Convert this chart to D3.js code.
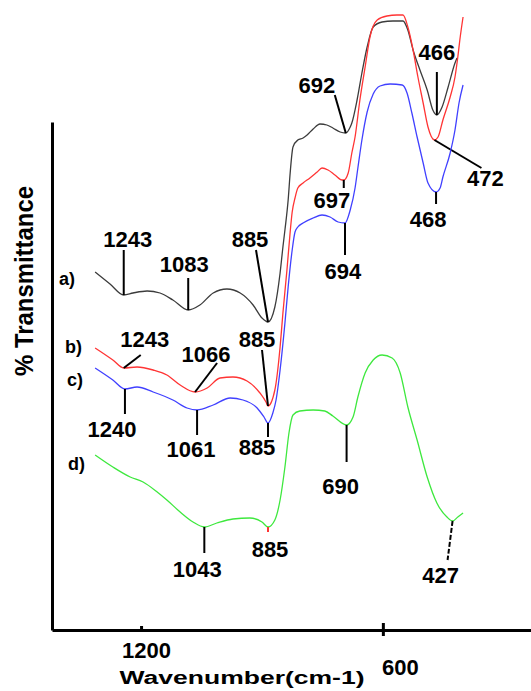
<!DOCTYPE html>
<html>
<head>
<meta charset="utf-8">
<script src="https://cdn.jsdelivr.net/npm/d3@7"></script>
<style>
  html, body { margin: 0; padding: 0; background: #fff; }
  svg { display: block; font-family: "Liberation Sans", Arial, sans-serif; font-weight: bold; }
</style>
</head>
<body>
<svg id="chart" width="531" height="691"></svg>
<script>
// ---- Spectra: wavenumber (cm-1) and offset % transmittance ----
const wnA = [1314,1277,1243,1220,1185,1153,1121,1083,1054,1021,987,954,922,900,885,868,855,848,843,835,830,823,811,798,788,773,756,739,724,706,692,681,677,664,652,639,624,602,575,550,538,525,508,490,476,466,453,438,421,416];
const tA  = [71.6,69.2,67,67.4,67.8,67.4,66,64,65,67.4,68.2,67.4,65,62.4,61.6,64.6,71.4,76.6,80,86,91.4,96.6,98,98.4,99,100.2,101.2,101,100.4,99.6,99.4,100.6,101.4,106,111.4,116.6,120.6,121.6,121.8,121.8,120,116,112,108,104,103,104.6,108.6,113.4,114.4];

const wnB = [1314,1270,1243,1210,1170,1136,1103,1066,1036,1004,972,937,905,890,885,868,855,848,838,830,825,818,811,798,781,763,751,736,719,701,697,686,677,669,657,644,632,614,590,565,550,538,525,513,500,488,472,463,451,433,421,414,409,401];
const tB  = [56.4,54,52.4,52.6,52,51,49,47.6,48.4,50.4,50.6,49.8,47.4,45.6,44.8,48,56.6,63.4,72,79.6,83.6,86.4,88.4,89.4,90.4,91.6,92.4,92,91,90,90,91.4,95.4,98.6,106,112.6,118.6,122,122.8,123,123,120.6,116,110.6,105.4,100.6,98,98.6,102,106.6,110.6,114.6,118,122.6];

const wnC = [1314,1270,1240,1210,1170,1121,1086,1061,1021,979,947,912,895,885,873,865,855,843,835,825,818,811,798,773,751,731,711,694,681,669,662,652,639,624,607,582,552,540,528,515,500,488,468,458,451,433,421,411,401];
const tC  = [52.4,50,48.2,48.6,47.6,46,44.4,44,45,46.4,46,44.4,42.6,41.4,43.4,46,52,61.4,68.6,76,79.6,80.6,81.4,82.4,83,82.6,81.6,81.4,84,88.4,92.4,98,103.6,107.2,108.8,109.2,109,107.4,103.4,98.6,93.4,89.4,87.6,88.4,90.6,95.4,100,105.4,109];

const wnD = [1314,1270,1227,1195,1160,1136,1103,1071,1043,1012,972,930,900,885,868,855,843,833,823,806,773,744,724,690,674,662,644,624,602,577,557,538,515,490,466,441,427,414,401];
const tD  = [35,32.6,30.6,29.6,27.6,26,23.6,21.6,20.6,21.4,22.2,22.4,21.6,20.6,22,26,32.6,39.4,43,43.8,44,43.8,42.8,41,42.6,46.6,51.4,54,55,54.4,51.4,44.6,38,30.6,25.4,22.6,21.8,22.6,23.4];

// Labelled band positions (cm-1) for each spectrum
const peaksA = [1243, 1083, 885, 692, 466];
const peaksB = [1243, 1066, 885, 697, 472];
const peaksC = [1240, 1061, 885, 694, 468];
const peaksD = [1043, 885, 690, 427];

const seriesNames = ["a)", "b)", "c)", "d)"];
const xTicks = [1200, 600];
const xTitle = "Wavenumber(cm-1)";
const yTitle = "% Transmittance";

// ---- Styling and label placement ----
const colors = ["#3c3c3c", "#ff3434", "#4040ff", "#3ee83e"];
// offsets (px) from the band minimum: leader end (lx, ly) and text anchor (tx, ty)
const peakLayout = [
  { 1243:{lx:0,ly:-45,tx:4,ty:-48}, 1083:{lx:0,ly:-32,tx:-4,ty:-38}, 885:{lx:-12,ly:-72,tx:-18,ty:-75},
    692:{lx:-11,ly:-38,tx:-29,ty:-40}, 466:{lx:0,ly:-43,tx:0,ty:-55} },
  { 1243:{lx:17,ly:-13,tx:21,ty:-21}, 1066:{lx:22,ly:-29,tx:11,ty:-30}, 885:{lx:-6,ly:-56,tx:-11,ty:-59},
    697:{lx:0,ly:8,tx:-12,ty:28}, 472:{lx:47,ly:28,tx:51,ty:46} },
  { 1240:{lx:0,ly:25,tx:-13,ty:48}, 1061:{lx:0,ly:25,tx:-6,ty:47}, 885:{lx:0,ly:14,tx:-11,ty:32},
    694:{lx:0,ly:32,tx:-2,ty:56}, 468:{lx:0,ly:12,tx:-8,ty:35} },
  { 1043:{lx:0,ly:26,tx:-7,ty:50}, 885:{lx:0,ly:5,tx:2,ty:30,stroke:"#ff3434"},
    690:{lx:0,ly:37,tx:-6,ty:69}, 427:{lx:-5,ly:39,tx:-12,ty:62,dash:"5,2"} }
];
const nameLayout = [ {dx:-20,dy:13}, {dx:-13,dy:5}, {dx:-12,dy:18}, {dx:-10,dy:15} ];
const tickLayout = { 1200:{up:4,down:2,dx:5,dy:28}, 600:{up:7,down:6,dx:17,dy:45} };

const series = [
  { wn: wnA, t: tA, peaks: peaksA },
  { wn: wnB, t: tB, peaks: peaksB },
  { wn: wnC, t: tC, peaks: peaksC },
  { wn: wnD, t: tD, peaks: peaksD }
];

// ---- Scales ----
const x = d3.scaleLinear().domain([1421, 232.4]).range([52, 531]);
const y = d3.scaleLinear().domain([0, 101.6]).range([630, 122]);

const svg = d3.select("#chart");

// ---- Axes ----
const xAxis = svg.append("g")
  .attr("transform", `translate(0,${y(0)})`)
  .call(d3.axisBottom(x).tickValues(xTicks).tickSizeOuter(0).tickSize(0).tickFormat(d3.format("d")));
xAxis.select(".domain").attr("stroke", "#000").attr("stroke-width", 3);
xAxis.selectAll(".tick line")
  .attr("stroke", "#000")
  .attr("stroke-width", 3)
  .attr("y1", d => -tickLayout[d].up)
  .attr("y2", d => tickLayout[d].down);
xAxis.selectAll(".tick text")
  .attr("fill", "#000")
  .attr("font-size", 22)
  .attr("font-weight", "bold")
  .attr("font-family", "'Liberation Sans', Arial, sans-serif")
  .attr("dy", null)
  .attr("y", d => tickLayout[d].dy)
  .attr("x", d => tickLayout[d].dx);

const yAxis = svg.append("g")
  .attr("transform", `translate(${x.range()[0]},0)`)
  .call(d3.axisLeft(y).tickValues([]).tickSizeOuter(0));
yAxis.select(".domain").attr("stroke", "#000").attr("stroke-width", 3);

svg.append("text")
  .attr("x", 242).attr("y", 684)
  .attr("text-anchor", "middle")
  .attr("font-size", 18)
  .attr("textLength", 245)
  .attr("lengthAdjust", "spacingAndGlyphs")
  .text(xTitle);

svg.append("text")
  .attr("transform", "translate(33,281) rotate(-90)")
  .attr("text-anchor", "middle")
  .attr("font-size", 26)
  .attr("textLength", 190)
  .attr("lengthAdjust", "spacingAndGlyphs")
  .text(yTitle);

// ---- Spectra ----
const line = d3.line()
  .x(d => x(d[0]))
  .y(d => y(d[1]))
  .curve(d3.curveMonotoneX);

series.forEach((s, i) => {
  const pts = s.wn.map((w, k) => [w, s.t[k]]);
  svg.append("path")
    .datum(pts)
    .attr("fill", "none")
    .attr("stroke", colors[i])
    .attr("stroke-width", 1.3)
    .attr("d", line);

  // spectrum name at the left end
  const nl = nameLayout[i];
  svg.append("text")
    .attr("x", x(pts[0][0]) + nl.dx)
    .attr("y", y(pts[0][1]) + nl.dy)
    .attr("text-anchor", "end")
    .attr("font-size", 18)
    .text(seriesNames[i]);

  // band labels with leader lines
  s.peaks.forEach(p => {
    const k = s.wn.indexOf(p);
    const px = x(p), py = y(s.t[k]);
    const L = peakLayout[i][p];
    svg.append("line")
      .attr("x1", px).attr("y1", py)
      .attr("x2", px + L.lx).attr("y2", py + L.ly)
      .attr("stroke", L.stroke || "#000")
      .attr("stroke-width", 2)
      .attr("stroke-dasharray", L.dash || null);
    svg.append("text")
      .attr("x", px + L.tx)
      .attr("y", py + L.ty)
      .attr("text-anchor", "middle")
      .attr("font-size", 22)
      .text(p);
  });
});
</script>
</body>
</html>
